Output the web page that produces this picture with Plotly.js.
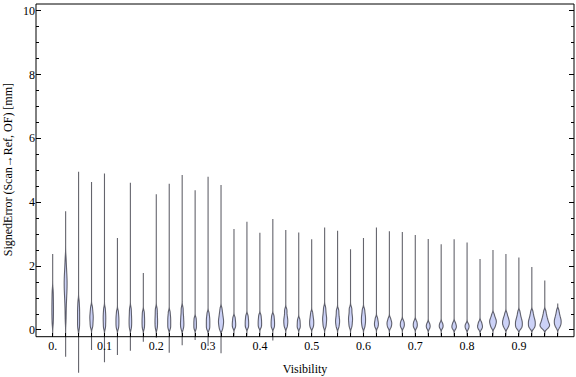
<!DOCTYPE html>
<html>
<head>
<meta charset="utf-8">
<script src="https://cdn.plot.ly/plotly-3.0.1.min.js"></script>
<style>html,body{margin:0;padding:0;background:#fff;}#chart{width:576px;height:377px;}</style>
</head>
<body>
<div id="chart"></div>
<script>
// Visibility bins (x positions of the violins)
const visibility = [0, 0.025, 0.05, 0.075, 0.1, 0.125, 0.15, 0.175, 0.2, 0.225,
  0.25, 0.275, 0.3, 0.325, 0.35, 0.375, 0.4, 0.425, 0.45, 0.475,
  0.5, 0.525, 0.55, 0.575, 0.6, 0.625, 0.65, 0.675, 0.7, 0.725,
  0.75, 0.775, 0.8, 0.825, 0.85, 0.875, 0.9, 0.925, 0.95, 0.975];

// Extreme signed errors per bin [mm]
const errMax = [2.38, 3.72, 4.95, 4.63, 4.90, 2.88, 4.61, 1.78, 4.25, 4.58,
  4.85, 4.37, 4.80, 4.54, 3.16, 3.39, 3.04, 3.47, 3.13, 3.05,
  2.84, 3.21, 3.11, 2.53, 2.88, 3.21, 3.09, 3.07, 2.97, 2.85,
  2.68, 2.84, 2.74, 2.22, 2.50, 2.38, 2.27, 1.97, 1.55, 0.83];
const errMin = [-0.18, -0.84, -1.34, -0.63, -1.01, -0.78, -0.65, -0.37, -0.24, -0.71,
  -0.48, -0.31, -0.50, -0.73, -0.18, -0.18, -0.18, -0.33, -0.18, -0.18,
  -0.18, -0.18, -0.18, -0.18, -0.18, -0.18, -0.18, -0.18, -0.18, -0.18,
  -0.18, -0.18, -0.18, -0.18, -0.18, -0.18, -0.18, -0.18, -0.18, -0.18];

// Bulk of the signed-error samples per bin [mm] (estimated)
const bulkSamples = [
  [0.2, 0.36, 0.5, 0.63, 0.76, 0.9, 1.05, 1.22],
  [0.3, 0.52, 0.7, 0.85, 0.97, 1.07, 1.16, 1.24, 1.31, 1.38, 1.45, 1.52, 1.59, 1.66, 1.74, 1.83, 1.94, 2.07, 2.25],
  [0.05, 0.15, 0.25, 0.35, 0.45, 0.55, 0.65, 0.76, 0.9],
  [0.08, 0.16, 0.23, 0.30, 0.36, 0.42, 0.48, 0.55, 0.63, 0.73],
  [0.06, 0.15, 0.24, 0.32, 0.40, 0.48, 0.57, 0.68],
  [0.05, 0.13, 0.20, 0.27, 0.34, 0.41, 0.49, 0.59],
  [0.05, 0.14, 0.22, 0.30, 0.38, 0.47, 0.57, 0.68],
  [0.05, 0.14, 0.22, 0.30, 0.38, 0.47, 0.57],
  [0.05, 0.14, 0.22, 0.30, 0.38, 0.47, 0.57, 0.67],
  [0.04, 0.11, 0.18, 0.25, 0.32, 0.39, 0.47, 0.57],
  [0.03, 0.10, 0.16, 0.22, 0.28, 0.35, 0.42, 0.50, 0.60, 0.70],
  [0.04, 0.12, 0.20, 0.28, 0.37],
  [0.02, 0.08, 0.14, 0.20, 0.26, 0.32, 0.38, 0.45, 0.54],
  [0.0, 0.06, 0.11, 0.16, 0.20, 0.24, 0.28, 0.32, 0.36, 0.41, 0.46, 0.52, 0.59, 0.68],
  [0.07, 0.13, 0.19, 0.25, 0.32, 0.40],
  [0.07, 0.13, 0.19, 0.25, 0.31, 0.38, 0.46],
  [0.08, 0.14, 0.20, 0.26, 0.32, 0.39, 0.47],
  [0.07, 0.13, 0.19, 0.25, 0.31, 0.38, 0.46],
  [0.08, 0.14, 0.20, 0.25, 0.30, 0.35, 0.41, 0.48, 0.57, 0.65],
  [0.06, 0.12, 0.19, 0.26, 0.34],
  [0.07, 0.13, 0.18, 0.23, 0.28, 0.33, 0.39, 0.46, 0.55],
  [0.08, 0.15, 0.21, 0.27, 0.32, 0.37, 0.42, 0.48, 0.55, 0.63, 0.72],
  [0.07, 0.14, 0.20, 0.25, 0.30, 0.35, 0.41, 0.48, 0.56, 0.64],
  [0.08, 0.15, 0.21, 0.27, 0.32, 0.37, 0.42, 0.48, 0.55, 0.63, 0.70],
  [0.07, 0.14, 0.20, 0.25, 0.30, 0.35, 0.40, 0.45, 0.51, 0.58, 0.66],
  [0.08, 0.14, 0.19, 0.24, 0.30, 0.38],
  [0.07, 0.12, 0.17, 0.21, 0.25, 0.30, 0.37],
  [0.08, 0.13, 0.18, 0.23, 0.29],
  [0.07, 0.12, 0.17, 0.22, 0.28],
  [0.05, 0.10, 0.15, 0.21],
  [0.06, 0.11, 0.16, 0.22],
  [0.04, 0.08, 0.12, 0.17, 0.23],
  [0.04, 0.09, 0.14, 0.19],
  [0.03, 0.07, 0.11, 0.15, 0.20, 0.26],
  [0.06, 0.11, 0.15, 0.19, 0.22, 0.25, 0.28, 0.31, 0.34, 0.38, 0.43, 0.50],
  [0.05, 0.10, 0.14, 0.17, 0.20, 0.23, 0.26, 0.29, 0.32, 0.36, 0.40, 0.45, 0.53],
  [0.03, 0.07, 0.10, 0.13, 0.16, 0.19, 0.22, 0.25, 0.28, 0.31, 0.35, 0.39, 0.44, 0.50, 0.58],
  [0.04, 0.08, 0.11, 0.14, 0.17, 0.20, 0.23, 0.26, 0.29, 0.32, 0.36, 0.40, 0.45, 0.51, 0.59],
  [0.03, 0.06, 0.09, 0.11, 0.13, 0.15, 0.17, 0.19, 0.21, 0.24, 0.27, 0.30, 0.33, 0.37, 0.41, 0.46, 0.52, 0.60],
  [0.06, 0.11, 0.15, 0.18, 0.21, 0.24, 0.27, 0.30, 0.33, 0.36, 0.40, 0.44, 0.49, 0.55, 0.63]
];

// Tick labels
const xTickVals = [0, 0.1, 0.2, 0.3, 0.4, 0.5, 0.6, 0.7, 0.8, 0.9];
const xTickText = ['0.', '0.1', '0.2', '0.3', '0.4', '0.5', '0.6', '0.7', '0.8', '0.9'];
const yTickVals = [0, 2, 4, 6, 8, 10];
const yTickText = ['0', '2', '4', '6', '8', '10'];
const yMinorVals = [0.5, 1, 1.5, 2.5, 3, 3.5, 4.5, 5, 5.5, 6.5, 7, 7.5, 8.5, 9, 9.5];

const X_RANGE = [-0.0322, 1.0064];
const Y_RANGE = [-1.44, 10.203];
const FRAME_BOTTOM = -0.21;
const framePos = (FRAME_BOTTOM - Y_RANGE[0]) / (Y_RANGE[1] - Y_RANGE[0]);
const MAX_VIOLIN_WIDTH = 0.0185; // widest violin, in x data units

// Kernel bandwidth: a fraction of Silverman's rule, bounded
function bandwidthFor(vals) {
  const n = vals.length;
  const mean = vals.reduce((a, b) => a + b, 0) / n;
  const sd = Math.sqrt(vals.reduce((a, b) => a + (b - mean) ** 2, 0) / (n - 1));
  const s = vals.slice().sort((a, b) => a - b);
  const q = p => { const h = (n - 1) * p, i = Math.floor(h); return s[i] + (h - i) * ((s[i + 1] ?? s[i]) - s[i]); };
  const a = Math.min(sd, (q(0.75) - q(0.25)) / 1.349);
  const silver = 1.059 * a * Math.pow(n, -0.2);
  return Math.min(0.2, Math.max(0.05, 0.45 * silver));
}
// Peak of the (unnormalised) Gaussian KDE = samples per unit error at the mode,
// so that all violins share one density scale.
function peakCountDensity(vals, bw) {
  const lo = Math.min(...vals) - 3 * bw, hi = Math.max(...vals) + 3 * bw;
  const norm = 1 / (bw * Math.sqrt(2 * Math.PI));
  let best = 0;
  for (let t = lo; t <= hi; t += bw / 10) {
    let s = 0;
    for (const x of vals) s += Math.exp(-0.5 * ((t - x) / bw) ** 2);
    best = Math.max(best, s * norm);
  }
  return best;
}
const bandwidths = bulkSamples.map(bandwidthFor);
const peaks = bulkSamples.map((s, i) => peakCountDensity(s, bandwidths[i]));
const peakMax = Math.max(...peaks);

const traces = visibility.map((v, i) => ({
  type: 'violin',
  x0: v,
  y: bulkSamples[i],
  orientation: 'v',
  spanmode: 'manual',
  span: [errMin[i], errMax[i]],
  bandwidth: bandwidths[i],
  scalemode: 'width',
  scalegroup: 'v' + i,
  width: MAX_VIOLIN_WIDTH * peaks[i] / peakMax,
  points: false,
  box: {visible: false},
  meanline: {visible: false},
  fillcolor: 'rgb(204,210,247)',
  line: {color: 'rgba(50,50,60,0.75)', width: 1.1},
  showlegend: false,
  hoverinfo: 'skip'
}));

const font = {family: 'Liberation Serif, Times New Roman, serif', size: 12, color: '#000'};

const layout = {
  width: 576, height: 377,
  margin: {l: 36, r: 2, t: 4, b: 1},
  paper_bgcolor: '#fff', plot_bgcolor: '#fff',
  font: font,
  showlegend: false,
  violinmode: 'overlay',
  xaxis: {
    type: 'linear', range: X_RANGE, anchor: 'free', position: framePos, side: 'bottom',
    tickmode: 'array', tickvals: xTickVals, ticktext: xTickText,
    ticks: 'inside', ticklen: 4, tickwidth: 1, tickcolor: '#000',
    minor: {tickmode: 'array', tickvals: visibility, ticks: 'inside', ticklen: 4, tickwidth: 1, tickcolor: '#000', showgrid: false},
    showline: false, showgrid: false, zeroline: false,
    title: {text: 'Visibility', standoff: 12, font: font},
    automargin: false
  },
  xaxis2: {
    type: 'linear', range: X_RANGE, overlaying: 'x', anchor: 'y', side: 'top',
    tickmode: 'array', tickvals: visibility, showticklabels: false,
    ticks: 'inside', ticklen: 5, tickwidth: 1, tickcolor: '#000',
    showline: false, showgrid: false, zeroline: false
  },
  yaxis: {
    type: 'linear', range: Y_RANGE, anchor: 'x',
    tickmode: 'array', tickvals: yTickVals, ticktext: yTickText,
    ticks: 'inside', ticklen: 5, tickwidth: 1, tickcolor: '#000', mirror: 'ticks',
    minor: {tickmode: 'array', tickvals: yMinorVals, ticks: 'inside', ticklen: 3, tickwidth: 1, tickcolor: '#000', showgrid: false},
    showline: false, showgrid: false, zeroline: false,
    automargin: false
  },
  shapes: [{
    type: 'rect', xref: 'paper', yref: 'paper', x0: 0, x1: 1, y0: framePos, y1: 1,
    line: {color: '#000', width: 1}, fillcolor: 'rgba(0,0,0,0)', layer: 'above'
  }],
  annotations: [{
    text: 'SignedError (Scan\u2192Ref, OF) [mm]', textangle: -90,
    xref: 'paper', yref: 'y', x: -0.052, y: 5, xanchor: 'center', yanchor: 'middle',
    showarrow: false, font: font
  }]
};

Plotly.newPlot('chart', traces, layout, {displayModeBar: false, staticPlot: true});
</script>
</body>
</html>
